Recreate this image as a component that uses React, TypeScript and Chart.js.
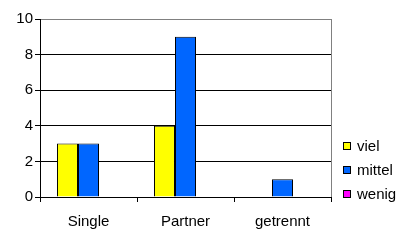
import React, { useEffect, useRef } from "react";
import { Chart, registerables } from "chart.js";

Chart.register(...registerables);

const categories = ["Single", "Partner", "getrennt"];
const seriesNames = ["viel", "mittel", "wenig"];
const viel = [3, 4, 0];
const mittel = [3, 9, 1];
const wenig = [0, 0, 0];
const seriesColors = ["#FFFF00", "#0066FF", "#FF00FF"];
const yTicks = [0, 2, 4, 6, 8, 10];

const FONT = "Liberation Sans, Arial, sans-serif";

const framePlugin = {
  id: "frame",
  afterDraw(chart: any) {
    const { ctx, chartArea } = chart;
    ctx.save();
    ctx.strokeStyle = "#808080";
    ctx.lineWidth = 1;
    ctx.beginPath();
    const x = Math.round(chartArea.right) + 0.5;
    ctx.moveTo(x, chartArea.top);
    ctx.lineTo(x, chartArea.bottom);
    ctx.stroke();
    // legend
    const datasets = chart.data.datasets;
    const startY = 146;
    const gap = 24;
    ctx.font = "15px " + FONT;
    ctx.textBaseline = "middle";
    ctx.textAlign = "left";
    datasets.forEach((ds: any, i: number) => {
      const cy = startY + i * gap;
      ctx.fillStyle = ds.backgroundColor;
      ctx.fillRect(343, cy - 3, 7, 7);
      ctx.strokeStyle = "#000";
      ctx.strokeRect(343.5, cy - 3.5, 7, 7);
      ctx.fillStyle = "#000";
      ctx.fillText(ds.label, 357, cy + 1);
    });
    ctx.restore();
  },
};

export default function App() {
  const ref = useRef<HTMLCanvasElement>(null);
  useEffect(() => {
    document.body.style.margin = "0";
    const values = [viel, mittel, wenig];
    const chart = new Chart(ref.current!, {
      type: "bar",
      data: {
        labels: categories,
        datasets: seriesNames.map((name, i) => ({
          label: name,
          data: values[i],
          backgroundColor: seriesColors[i],
          borderColor: "#000000",
          borderWidth: 1,
          barPercentage: 1,
          categoryPercentage: 0.65,
        })),
      },
      options: {
        responsive: false,
        animation: false,
        devicePixelRatio: 1,
        layout: { padding: { top: 19, right: 89, left: 0, bottom: 0 } },
        plugins: { legend: { display: false }, tooltip: { enabled: false } },
        scales: {
          x: {
            grid: { offset: true, drawOnChartArea: false, color: "#000", tickLength: 5 },
            border: { color: "#000" },
            ticks: { color: "#000", font: { family: FONT, size: 15 }, padding: 11 },
            afterFit(scale: any) {
              scale.height = 43;
            },
          },
          y: {
            min: 0,
            max: 10,
            afterBuildTicks(scale: any) {
              scale.ticks = yTicks.map((v) => ({ value: v }));
            },
            grid: {
              color: (c: any) => (c.tick && c.tick.value === 10 ? "#808080" : "#000"),
              tickColor: "#000",
              tickLength: 5,
            },
            border: { color: "#000" },
            ticks: { color: "#000", font: { family: FONT, size: 15 }, padding: 2 },
            afterFit(scale: any) {
              scale.width = 40;
            },
          },
        },
      },
      plugins: [framePlugin],
    });
    return () => chart.destroy();
  }, []);
  return (
    <div style={{ position: "absolute", left: 0, top: 0, width: 420, height: 240, background: "#fff" }}>
      <canvas ref={ref} width={420} height={240} />
    </div>
  );
}
